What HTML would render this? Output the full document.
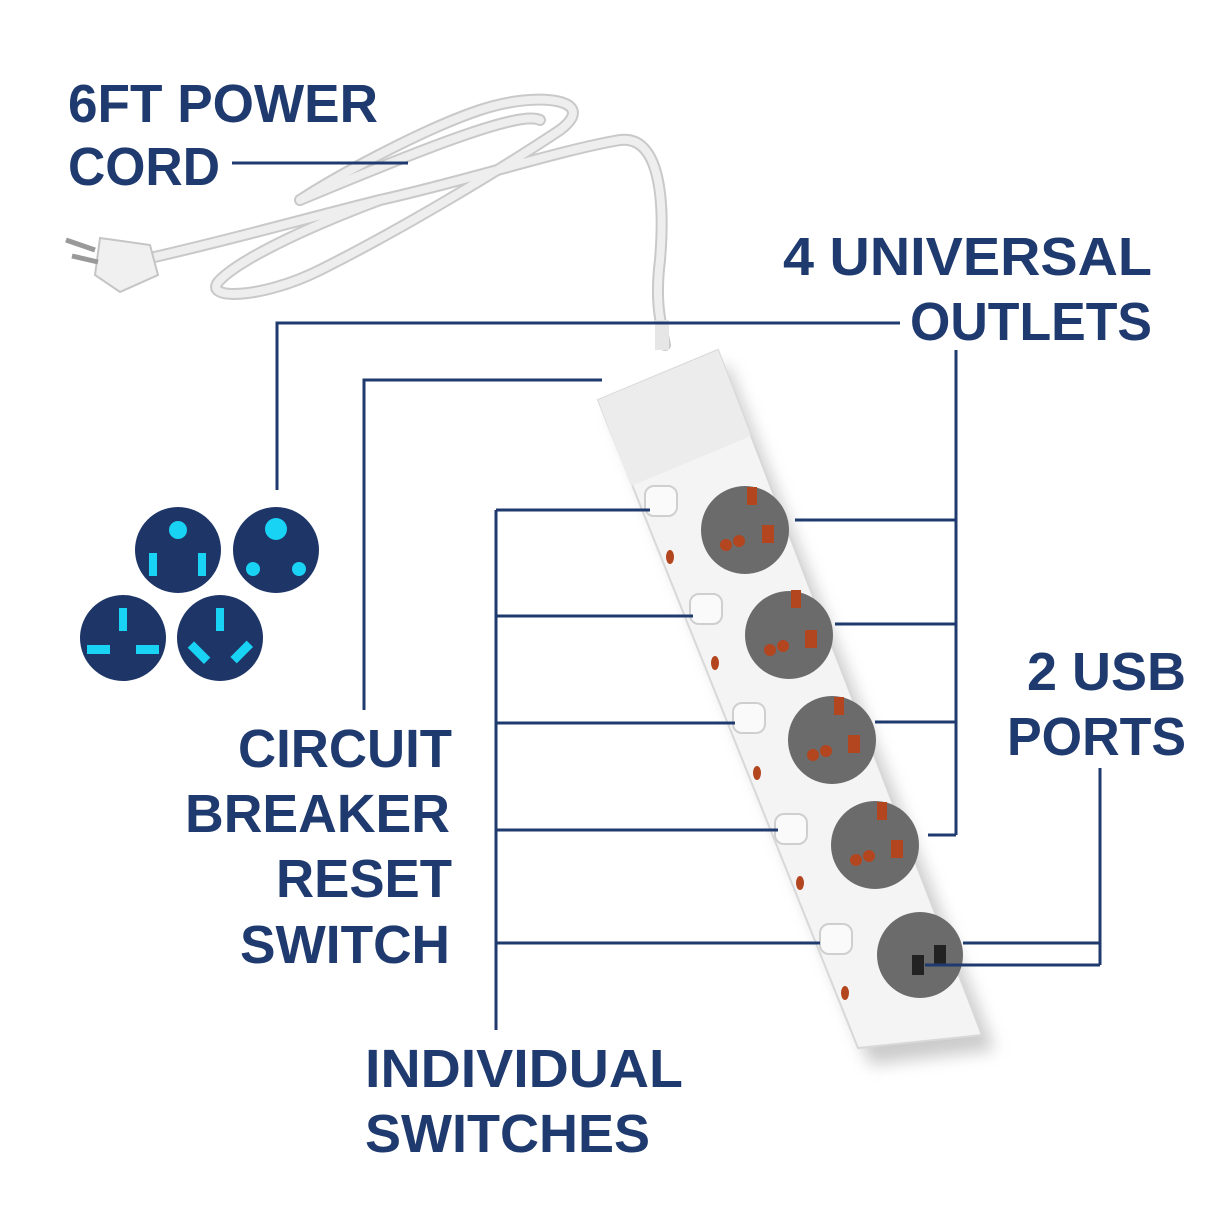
<!DOCTYPE html>
<html><head><meta charset="utf-8"><style>
html,body{margin:0;padding:0;background:#fff}
svg{display:block}
text{font-family:"Liberation Sans",sans-serif;font-weight:bold;fill:#1f3a6e;font-size:54px}
</style></head><body>
<svg width="1206" height="1206" viewBox="0 0 1206 1206" xmlns="http://www.w3.org/2000/svg">
<defs>
<filter id="sh" x="-20%" y="-20%" width="140%" height="140%"><feGaussianBlur stdDeviation="8"/></filter>
</defs>
<!-- cord -->
<g fill="none" stroke-linecap="round">
<g stroke="#c9c9c9" stroke-width="12">
<path d="M150 258 C230 240 300 220 380 200 C470 180 560 150 620 140 C660 135 665 200 660 260 C655 300 660 320 665 345"/>
<path d="M380 200 C300 230 240 260 220 280 C200 300 260 300 320 270 C400 230 500 170 560 130 C600 100 540 90 480 110 C420 130 330 180 300 200"/>
<path d="M300 200 C420 150 520 110 540 120"/>
</g>
<g stroke="#eeeeee" stroke-width="8">
<path d="M150 258 C230 240 300 220 380 200 C470 180 560 150 620 140 C660 135 665 200 660 260 C655 300 660 320 665 345"/>
<path d="M380 200 C300 230 240 260 220 280 C200 300 260 300 320 270 C400 230 500 170 560 130 C600 100 540 90 480 110 C420 130 330 180 300 200"/>
<path d="M300 200 C420 150 520 110 540 120"/>
</g>
</g>
<!-- plug -->
<path d="M100 238 L150 245 L158 275 L120 292 L95 275 Z" fill="#f0f0f0" stroke="#c5c5c5" stroke-width="2"/>
<line x1="95" y1="250" x2="66" y2="240" stroke="#999" stroke-width="5"/>
<line x1="98" y1="262" x2="72" y2="256" stroke="#999" stroke-width="5"/>
<!-- strip shadow -->
<polygon points="610,410 728,365 995,1050 870,1065" fill="#999" opacity="0.5" filter="url(#sh)"/>
<!-- strip -->
<polygon points="598,400 718,350 982,1035 858,1048" fill="#f4f4f4" stroke="#d8d8d8" stroke-width="2"/>
<polygon points="598,400 718,350 751,436 631,486" fill="#ececec"/>
<rect x="655" y="320" width="14" height="30" fill="#e6e6e6"/>
<!-- outlets -->
<g fill="#6b6b6b">
<circle cx="745" cy="530" r="44"/><circle cx="789" cy="635" r="44"/>
<circle cx="832" cy="740" r="44"/><circle cx="875" cy="845" r="44"/>
<circle cx="920" cy="955" r="43"/>
</g>
<g fill="#b3461e">
<rect x="747" y="487" width="10" height="18"/><rect x="762" y="525" width="12" height="18"/><circle cx="726" cy="545" r="6"/><circle cx="739" cy="541" r="6"/>
<rect x="791" y="590" width="10" height="18"/><rect x="805" y="630" width="12" height="18"/><circle cx="770" cy="650" r="6"/><circle cx="783" cy="646" r="6"/>
<rect x="834" y="697" width="10" height="18"/><rect x="848" y="735" width="12" height="18"/><circle cx="813" cy="755" r="6"/><circle cx="826" cy="751" r="6"/>
<rect x="877" y="802" width="10" height="18"/><rect x="891" y="840" width="12" height="18"/><circle cx="856" cy="860" r="6"/><circle cx="869" cy="856" r="6"/>
</g>
<rect x="912" y="955" width="12" height="20" fill="#222"/><rect x="934" y="945" width="12" height="20" fill="#222"/>
<!-- buttons -->
<g fill="#fafafa" stroke="#cfcfcf" stroke-width="2">
<rect x="645" y="486" width="32" height="30" rx="9"/><rect x="690" y="594" width="32" height="30" rx="9"/>
<rect x="733" y="703" width="32" height="30" rx="9"/><rect x="775" y="814" width="32" height="30" rx="9"/>
<rect x="820" y="924" width="32" height="30" rx="9"/>
</g>
<g fill="#b3461e">
<ellipse cx="670" cy="557" rx="4" ry="7"/><ellipse cx="715" cy="663" rx="4" ry="7"/>
<ellipse cx="757" cy="773" rx="4" ry="7"/><ellipse cx="800" cy="883" rx="4" ry="7"/>
<ellipse cx="845" cy="993" rx="4" ry="7"/>
</g>
<!-- lines -->
<g stroke="#1f3a6e" stroke-width="3" fill="none">
<line x1="232" y1="163" x2="408" y2="163"/>
<polyline points="900,323 277,323 277,490"/>
<line x1="956" y1="350" x2="956" y2="835"/>
<line x1="795" y1="520" x2="956" y2="520"/><line x1="835" y1="624" x2="956" y2="624"/>
<line x1="875" y1="722" x2="956" y2="722"/><line x1="928" y1="835" x2="956" y2="835"/>
<polyline points="602,380 364,380 364,710"/>
<line x1="496" y1="510" x2="496" y2="1030"/>
<line x1="496" y1="510" x2="650" y2="510"/><line x1="496" y1="616" x2="693" y2="616"/>
<line x1="496" y1="723" x2="735" y2="723"/><line x1="496" y1="830" x2="778" y2="830"/>
<line x1="496" y1="943" x2="820" y2="943"/>
<line x1="1100" y1="768" x2="1100" y2="965"/>
<line x1="963" y1="943" x2="1100" y2="943"/><line x1="925" y1="965" x2="1100" y2="965"/>
</g>
<!-- plug icons -->
<g fill="#1d3567">
<circle cx="178" cy="550" r="43"/><circle cx="276" cy="550" r="43"/>
<circle cx="123" cy="638" r="43"/><circle cx="220" cy="638" r="43"/>
</g>
<g fill="#19d3f5">
<circle cx="178" cy="530" r="9"/><rect x="149" y="553" width="8" height="23"/><rect x="198" y="553" width="8" height="23"/>
<circle cx="276" cy="529" r="11"/><circle cx="253" cy="569" r="7"/><circle cx="299" cy="569" r="7"/>
<rect x="119" y="608" width="8" height="23"/><rect x="87" y="645" width="23" height="9"/><rect x="136" y="645" width="23" height="9"/>
<rect x="216" y="608" width="8" height="23"/>
<rect x="188" y="648" width="23" height="9" transform="rotate(45 199 652)"/>
<rect x="230" y="648" width="23" height="9" transform="rotate(-45 241 652)"/>
</g>
<!-- labels -->
<text x="68" y="122" textLength="310" lengthAdjust="spacingAndGlyphs">6FT POWER</text>
<text x="68" y="185" textLength="152" lengthAdjust="spacingAndGlyphs">CORD</text>
<text x="783" y="275" textLength="369" lengthAdjust="spacingAndGlyphs">4 UNIVERSAL</text>
<text x="910" y="340" textLength="242" lengthAdjust="spacingAndGlyphs">OUTLETS</text>
<text x="1027" y="690" textLength="159" lengthAdjust="spacingAndGlyphs">2 USB</text>
<text x="1007" y="755" textLength="179" lengthAdjust="spacingAndGlyphs">PORTS</text>
<text x="238" y="767" textLength="214" lengthAdjust="spacingAndGlyphs">CIRCUIT</text>
<text x="185" y="832" textLength="265" lengthAdjust="spacingAndGlyphs">BREAKER</text>
<text x="276" y="897" textLength="176" lengthAdjust="spacingAndGlyphs">RESET</text>
<text x="240" y="963" textLength="210" lengthAdjust="spacingAndGlyphs">SWITCH</text>
<text x="365" y="1087" textLength="318" lengthAdjust="spacingAndGlyphs">INDIVIDUAL</text>
<text x="365" y="1152" textLength="285" lengthAdjust="spacingAndGlyphs">SWITCHES</text>
</svg>
</body></html>
